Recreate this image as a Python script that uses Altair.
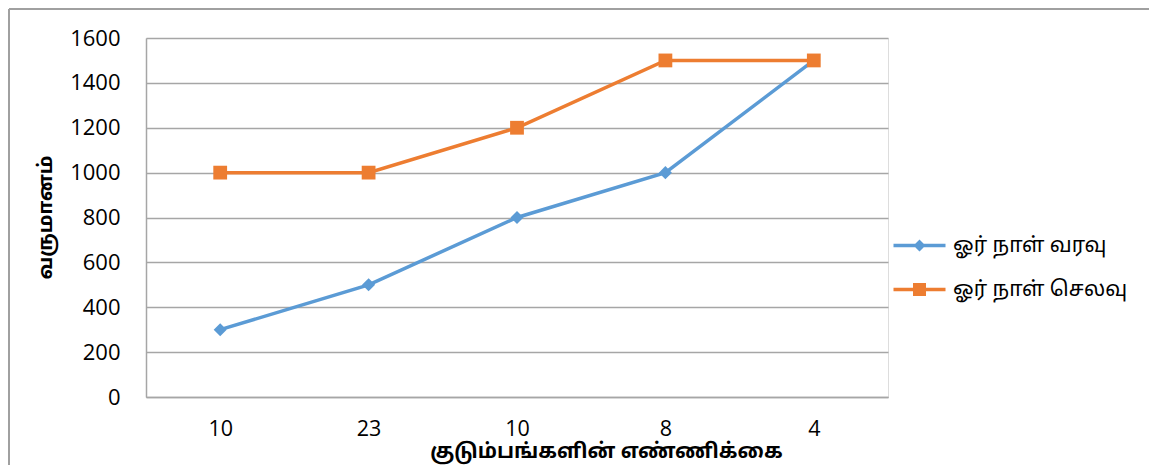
import altair as alt
import pandas as pd

# ---- data ----
x_labels = ["10", "23", "10", "8", "4"]
series_names = ["ஓர் நாள் வரவு", "ஓர் நாள் செலவு"]
income = [300, 500, 800, 1000, 1500]
expense = [1000, 1000, 1200, 1500, 1500]
y_title = "வருமானம்"
x_title = "குடும்பங்களின் எண்ணிக்கை"
colors = ["#5B9BD5", "#ED7D31"]
shapes = ["diamond", "square"]
sizes = [170, 190]

rows = []
for i, (a, b) in enumerate(zip(income, expense)):
    rows.append({"idx": i, "series": series_names[0], "value": a})
    rows.append({"idx": i, "series": series_names[1], "value": b})
df = pd.DataFrame(rows)

TAMIL = "'Noto Sans Tamil', 'Lohit Tamil', 'Noto Sans', sans-serif"
NUM = "Open Sans"

label_expr = "[" + ",".join(f"'{l}'" for l in x_labels) + "][datum.value]"

x_enc = alt.X(
    "idx:O",
    scale=alt.Scale(paddingInner=0, paddingOuter=0),
    axis=alt.Axis(
        title=x_title, labelExpr=label_expr, labelAngle=0, ticks=False,
        labelPadding=21, labelFont=NUM, labelFontSize=21.5, labelColor="#000",
        titleFont=TAMIL, titleFontSize=20.5, titleFontWeight="bold", titleColor="#000",
        titleX=460, titleY=54, titleBaseline="middle", titleAlign="center",
        domainColor="#a6a6a6", domainWidth=1.5, grid=False,
    ),
)
y_enc = alt.Y(
    "value:Q",
    scale=alt.Scale(domain=[0, 1600], nice=False),
    axis=alt.Axis(
        values=list(range(0, 1601, 200)), format="d", title=y_title, ticks=False,
        labelPadding=26, labelFont=NUM, labelFontSize=22, labelColor="#000",
        titleFont=TAMIL, titleFontSize=20, titleFontWeight="bold", titleColor="#000",
        titleX=-101, titleY=179, titleBaseline="middle", titleAlign="center", titleAngle=-90,
        gridColor="#a6a6a6", gridWidth=1.5, domainColor="#a6a6a6", domainWidth=1.5,
    ),
)

base = alt.Chart(df)
layers = []
for name, col, shp, sz in zip(series_names, colors, shapes, sizes):
    sub = base.transform_filter(alt.datum.series == name)
    layers.append(sub.mark_line(strokeWidth=3.5, color=col).encode(x=x_enc, y=y_enc))
for name, col, shp, sz in zip(series_names, colors, shapes, sizes):
    sub = base.transform_filter(alt.datum.series == name)
    layers.append(sub.mark_point(shape=shp, filled=True, size=sz, opacity=1, color=col).encode(x=x_enc, y=y_enc))

sym_d = "M-2.6,-0.17L2.6,-0.17L2.6,0.17L-2.6,0.17Z M0,-0.6L0.6,0L0,0.6L-0.6,0Z"
sym_s = "M-2.6,-0.17L2.6,-0.17L2.6,0.17L-2.6,0.17Z M-0.65,-0.65L0.65,-0.65L0.65,0.65L-0.65,0.65Z"

legend = alt.Legend(
    title=None, orient="none", legendX=763, legendY=197, padding=0,
    symbolSize=400, symbolStrokeWidth=0, labelOffset=23, rowPadding=22,
    labelFont=TAMIL, labelFontSize=21, labelColor="#000", labelLimit=400,
)
leg_layer = base.transform_filter("false").mark_point(filled=True, size=400, opacity=1).encode(
    x=x_enc, y=y_enc,
    color=alt.Color("series:N", scale=alt.Scale(domain=series_names, range=colors), legend=legend),
    shape=alt.Shape("series:N", scale=alt.Scale(domain=series_names, range=[sym_d, sym_s]), legend=legend),
)
layers.append(leg_layer)

border_df = pd.DataFrame({"a": [0]})
layers.append(alt.Chart(border_df).mark_rule(color="#a0a0a0", strokeWidth=2).encode(
    x=alt.value(-137), x2=alt.value(1100), y=alt.value(-29), y2=alt.value(-29)
))
layers.append(alt.Chart(border_df).mark_rule(color="#a0a0a0", strokeWidth=2).encode(
    x=alt.value(-137), x2=alt.value(-137), y=alt.value(-29), y2=alt.value(500)
))

chart = alt.layer(*layers).properties(
    width=742, height=359,
    autosize=alt.AutoSizeParams(type="none"),
    padding={"left": 138, "top": 30, "right": 261, "bottom": 68},
).configure_view(stroke=None).configure(background="white")

chart.save("out.html", embed_options={"renderer": "svg", "actions": False})
